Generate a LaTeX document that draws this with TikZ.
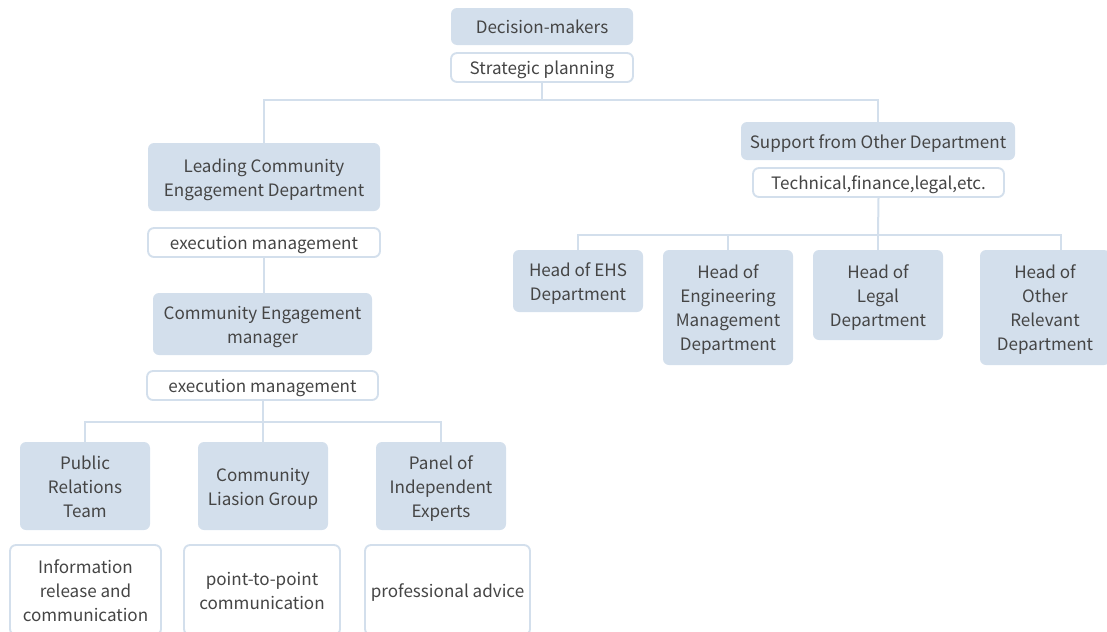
\documentclass[tikz,border=0pt]{standalone}
\usepackage{fontspec}
\setmainfont{Noto Sans CJK SC}
\definecolor{boxfill}{HTML}{D3DFEC}
\definecolor{lineclr}{HTML}{D3DFEC}
\definecolor{txt}{HTML}{454545}
\newcommand{\boxtxt}[1]{\raisebox{0pt}[\dimexpr\height+3.4pt\relax][\depth]{\begin{tabular}{@{}c@{}}#1\end{tabular}}}
\begin{document}
\begin{tikzpicture}[x=0.75pt,y=-0.75pt,
  sz/.style 2 args={minimum width=#1*0.75pt, minimum height=#2*0.75pt},
  base/.style={rounded corners=4.5pt, inner sep=0pt, text=txt,
    font=\fontsize{12.8pt}{18pt}\selectfont},
  fbox/.style={base, fill=boxfill},
  wbox/.style={base, fill=white, draw=lineclr, line width=1.4pt},
  conn/.style={draw=lineclr, line width=1.5pt}]
\useasboundingbox (0,0) rectangle (1107,632);
\clip (0,0) rectangle (1107,632);

% top
\node[fbox, sz={182}{37}] (dm) at (542,26.5) {\boxtxt{Decision-makers}};
\node[wbox, sz={182}{29}] (sp) at (542,67.5) {\boxtxt{Strategic planning}};

% left branch
\node[fbox, sz={232}{68}] (lced) at (264,177) {\boxtxt{Leading Community\\Engagement Department}};
\node[wbox, sz={232}{29}] (em1) at (264,242.5) {\boxtxt{execution management}};
\node[fbox, sz={219}{62}] (cem) at (262.5,324) {\boxtxt{Community Engagement\\manager}};
\node[wbox, sz={231}{29}] (em2) at (262.5,385.5) {\boxtxt{execution management}};

\node[fbox, sz={130}{88}] (prt) at (85,486) {\boxtxt{Public\\Relations\\Team}};
\node[fbox, sz={130}{88}] (clg) at (263,486) {\boxtxt{Community\\Liasion Group}};
\node[fbox, sz={130}{88}] (pie) at (441,486) {\boxtxt{Panel of\\Independent\\Experts}};

\node[wbox, sz={151}{90}] (irc) at (85.5,590) {\boxtxt{Information\\release and\\communication}};
\node[wbox, sz={156}{90}] (ptp) at (262,590) {\boxtxt{point-to-point\\communication}};
\node[wbox, sz={165}{90}] (pa) at (447.5,590) {\boxtxt{professional advice}};

% right branch
\node[fbox, sz={274}{38}] (sod) at (878,141) {\boxtxt{Support from Other Department}};
\node[wbox, sz={251}{29}] (tfl) at (878.5,182.5) {\boxtxt{Technical,finance,legal,etc.}};

\node[fbox, sz={130}{62}] (ehs) at (578,281) {\boxtxt{Head of EHS\\Department}};
\node[fbox, sz={130}{115}] (eng) at (728,307.5) {\boxtxt{Head of\\Engineering\\Management\\Department}};
\node[fbox, sz={130}{90}] (leg) at (878,295) {\boxtxt{Head of\\Legal\\Department}};
\node[fbox, sz={130}{115}] (oth) at (1045,307.5) {\boxtxt{Head of\\Other\\Relevant\\Department}};

% connectors
\coordinate (bus1) at (542,100);
\draw[conn] (sp.south) -- (bus1) -| (lced.north);
\draw[conn] (bus1) -| (sod.north);

\draw[conn] (em1.south) -- (em1.south |- cem.north);

\coordinate (bus2) at (263,422);
\draw[conn] (em2.south) -- (em2.south |- bus2);
\draw[conn] (bus2) -| (prt.north);
\draw[conn] (bus2) -- (clg.north);
\draw[conn] (bus2) -| (pie.north);

\coordinate (bus3) at (878,235);
\coordinate (othtop) at (1061,250);
\draw[conn] (tfl.south) -- (bus3);
\draw[conn] (bus3) -| (ehs.north);
\draw[conn] (bus3) -| (eng.north);
\draw[conn] (bus3) -- (leg.north);
\draw[conn] (bus3) -| (othtop);
\end{tikzpicture}
\end{document}
